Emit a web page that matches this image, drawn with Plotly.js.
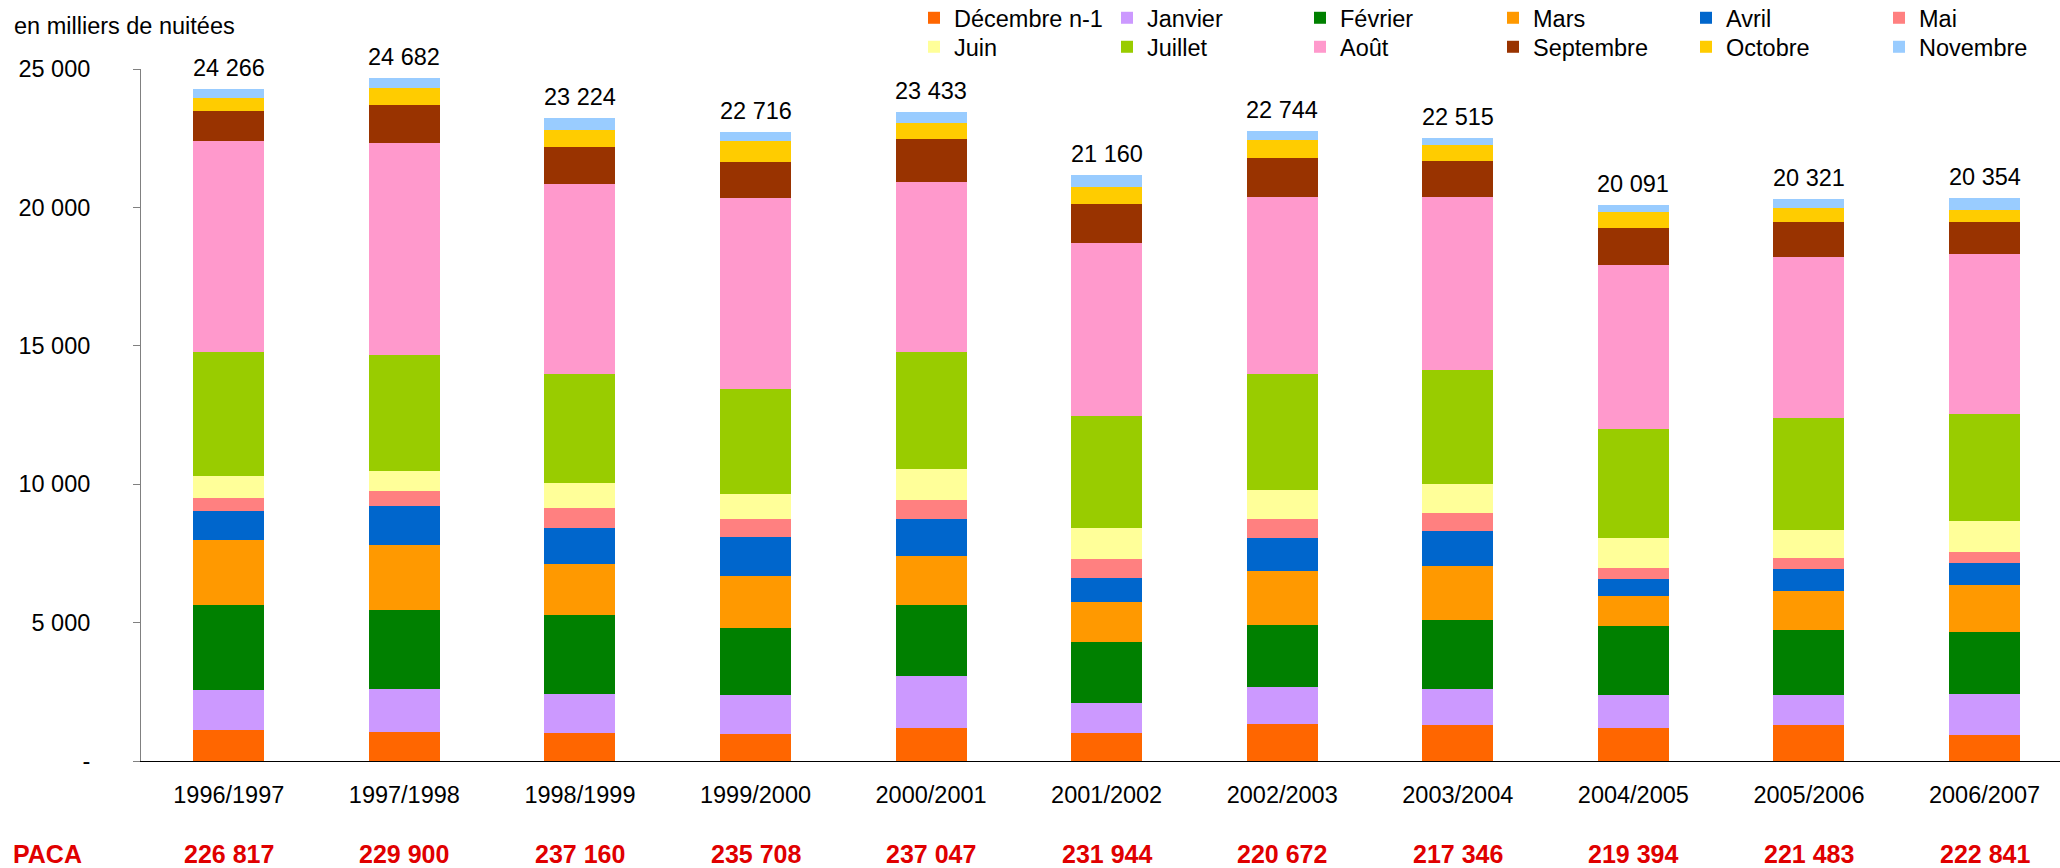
<!DOCTYPE html>
<html>
<head>
<meta charset="utf-8">
<script src="https://cdn.plot.ly/plotly-3.0.1.min.js"></script>
<style>html,body{margin:0;padding:0;background:#fff;}#chart{width:2060px;height:868px;}</style>
</head>
<body>
<div id="chart"></div>
<script>
// ---- Data ----
const categories = ['1996/1997','1997/1998','1998/1999','1999/2000','2000/2001','2001/2002','2002/2003','2003/2004','2004/2005','2005/2006','2006/2007'];
const monthNames = ['Décembre n-1','Janvier','Février','Mars','Avril','Mai','Juin','Juillet','Août','Septembre','Octobre','Novembre'];
const decembre  = [1110,1060,1000, 960,1210,1000,1320,1290,1210,1290, 930];
const janvier   = [1440,1550,1430,1410,1850,1110,1340,1320,1190,1110,1500];
const fevrier   = [3070,2860,2830,2450,2560,2200,2270,2500,2490,2350,2240];
const mars      = [2350,2340,1860,1880,1770,1440,1950,1950,1070,1380,1700];
const avril     = [1070,1410,1310,1400,1370, 870,1190,1260, 620, 810, 770];
const mai       = [ 470, 550, 720, 630, 680, 680, 660, 650, 410, 410, 410];
const juin      = [ 800, 690, 900, 930,1120,1100,1070,1050,1050,1000,1130];
const juillet   = [4480,4210,3940,3770,4230,4070,4190,4110,3950,4050,3840];
const aout      = [7610,7650,6860,6910,6130,6240,6390,6250,5930,5800,5800];
const septembre = [1080,1370,1320,1290,1550,1400,1400,1290,1330,1280,1160];
const octobre   = [ 460, 640, 620, 770, 570, 630, 670, 600, 590, 500, 440];
const novembre  = [ 326, 352, 434, 316, 393, 420, 294, 245, 251, 341, 434];
const totals    = [24266,24682,23224,22716,23433,21160,22744,22515,20091,20321,20354];
const paca      = [226817,229900,237160,235708,237047,231944,220672,217346,219394,221483,222841];
const yTickVals = [0,5000,10000,15000,20000,25000];
const yTickText = ['-','5 000','10 000','15 000','20 000','25 000'];

// ---- Styles ----
const series = [decembre,janvier,fevrier,mars,avril,mai,juin,juillet,aout,septembre,octobre,novembre];
const colors = ['#FF6600','#CC99FF','#008000','#FF9900','#0066CC','#FF8080','#FFFF99','#99CC00','#FF99CC','#993300','#FFCC00','#99CCFF'];
const FONT = '"Liberation Sans", Arial, sans-serif';
const fmt = n => String(n).replace(/\B(?=(\d{3})+(?!\d))/g, ' ');

const W = 2060, H = 868, L = 141, R = 0, T = 68, B = 107;

const traces = series.map((vals, i) => ({
  type: 'bar',
  name: monthNames[i],
  x: categories,
  y: vals,
  marker: {color: colors[i], line: {width: 0}},
  legend: i < 6 ? 'legend' : 'legend2',
  hoverinfo: 'x+y+name'
}));

const annotations = [];
categories.forEach((c, i) => {
  annotations.push({
    xref: 'x', yref: 'y', x: c, y: totals[i], text: fmt(totals[i]),
    showarrow: false, yanchor: 'bottom', yshift: 6,
    font: {family: FONT, size: 23.5, color: '#000'}
  });
  annotations.push({
    xref: 'x', yref: 'paper', x: c, y: (T + (H - T - B) - 854) / (H - T - B),
    text: '<b>' + fmt(paca[i]) + '</b>', showarrow: false, yanchor: 'middle',
    font: {family: FONT, size: 25, color: '#E00000'}
  });
});
annotations.push({
  xref: 'paper', yref: 'paper', x: (47 - L) / (W - L - R), y: (T + (H - T - B) - 854) / (H - T - B),
  text: '<b>PACA</b>', showarrow: false, xanchor: 'center', yanchor: 'middle',
  font: {family: FONT, size: 25, color: '#E00000'}
});
annotations.push({
  xref: 'paper', yref: 'paper', x: (12 - L) / (W - L - R), y: (H - B - 25) / (H - T - B),
  text: 'en milliers de nuitées', showarrow: false, xanchor: 'left', yanchor: 'middle',
  font: {family: FONT, size: 23.5, color: '#000'}
});

const legendCommon = {
  orientation: 'h', xref: 'container', yref: 'container',
  xanchor: 'left', yanchor: 'middle',
  entrywidth: 148, entrywidthmode: 'pixels',
  font: {family: FONT, size: 23.5, color: '#000'},
  bgcolor: 'rgba(0,0,0,0)', borderwidth: 0, itemclick: false, itemdoubleclick: false,
  traceorder: 'normal'
};

const layout = {
  width: W, height: H,
  margin: {l: L, r: R, t: T, b: B, pad: 0},
  paper_bgcolor: '#fff', plot_bgcolor: '#fff',
  barmode: 'stack', bargap: 0.596,
  font: {family: FONT, size: 23.5, color: '#000'},
  showlegend: true,
  legend: Object.assign({}, legendCommon, {x: 914 / W, y: 1 - 18 / H}),
  legend2: Object.assign({}, legendCommon, {x: 914 / W, y: 1 - 47 / H}),
  xaxis: {
    type: 'category', range: [-0.5, 10.43], showgrid: false, zeroline: false,
    showline: true, linecolor: '#000', linewidth: 1, ticks: '',
    ticklabelstandoff: 13,
    tickfont: {family: FONT, size: 23.5, color: '#000'}, fixedrange: true
  },
  yaxis: {
    range: [0, 25000], tickvals: yTickVals, ticktext: yTickText,
    showgrid: false, zeroline: false, showline: true, linecolor: '#808080', linewidth: 1,
    ticks: 'outside', ticklen: 7, tickcolor: '#808080', tickwidth: 1,
    ticklabelstandoff: 38,
    tickfont: {family: FONT, size: 23.5, color: '#000'}, fixedrange: true
  },
  annotations: annotations
};

Plotly.newPlot('chart', traces, layout, {displayModeBar: false, staticPlot: true});
</script>
</body>
</html>
